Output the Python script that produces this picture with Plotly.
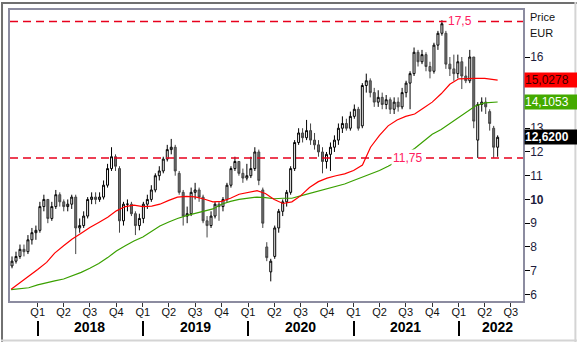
import pandas as pd
import plotly.graph_objects as go

# ---------------- data ----------------
candle_start, candle_end, n_candles = "2017-10-04", "2022-05-16", 123

opens = [7.2, 7.4, 7.6, 7.9, 7.8, 8.3, 8.6, 8.7, 9.7, 10.0,
         9.2, 9.7, 10.2, 9.9, 9.7, 9.8, 10.1, 8.8, 8.9, 9.3,
         10.0, 10.1, 10.0, 10.1, 10.6, 11.3, 11.8, 11.3, 9.1, 9.8,
         9.8, 9.4, 8.9, 9.2, 9.8, 10.0, 10.4, 11.0, 11.2, 11.7,
         12.1, 12.2, 11.1, 10.3, 9.3, 9.4, 10.3, 10.4, 10.1, 9.1,
         8.9, 9.3, 9.8, 9.7, 10.0, 10.6, 11.3, 11.6, 11.1, 10.9,
         11.0, 11.3, 12.0, 10.4, 8.0, 6.95, 7.6, 8.8, 9.5, 9.9,
         10.3, 11.3, 12.4, 12.8, 12.6, 12.9, 12.5, 12.3, 12.0, 11.6,
         11.9, 12.2, 12.5, 13.0, 13.2, 13.0, 13.5, 13.8, 13.1, 14.8,
         15.0, 14.5, 14.1, 14.3, 14.0, 14.2, 13.8, 14.1, 13.9, 14.5,
         14.9, 15.3, 16.2, 15.8, 16.1, 15.6, 15.4, 16.5, 17.0, 17.0,
         15.7, 15.5, 15.3, 15.8, 15.2, 15.0, 16.0, 12.5, 14.0, 14.1,
         13.7, 13.0, 12.2]
highs = [7.6, 7.8, 8.1, 8.1, 8.5, 8.8, 8.9, 9.9, 10.2, 10.0,
         9.9, 10.4, 10.3, 10.0, 10.0, 10.2, 10.2, 9.2, 9.5, 10.1,
         10.3, 10.3, 10.3, 10.8, 11.5, 12.2, 11.9, 11.4, 9.9, 10.0,
         9.9, 9.5, 9.4, 9.9, 10.2, 10.6, 11.1, 11.4, 11.8, 12.3,
         12.55, 12.3, 11.2, 10.4, 9.7, 10.5, 10.7, 10.5, 10.2, 9.3,
         9.5, 9.9, 9.9, 10.1, 10.7, 11.4, 11.8, 11.6, 11.3, 11.5,
         11.8, 12.2, 12.1, 10.5, 8.2, 7.5, 8.9, 9.6, 10.0, 10.4,
         11.4, 12.5, 13.0, 13.0, 13.35, 13.2, 12.8, 12.5, 12.2, 12.0,
         12.4, 12.7, 13.2, 13.5, 13.4, 13.7, 14.0, 13.9, 14.9, 15.3,
         15.1, 14.7, 14.6, 14.5, 14.4, 14.3, 14.3, 14.3, 14.7, 15.0,
         15.4, 16.4, 16.3, 16.3, 16.2, 15.8, 16.6, 17.1, 17.55, 17.1,
         16.0, 16.1, 16.1, 16.0, 15.6, 16.3, 16.0, 14.1, 14.3, 14.3,
         13.8, 13.1, 12.7]
lows = [7.1, 7.3, 7.5, 7.6, 7.7, 8.1, 8.3, 8.6, 9.5, 9.0,
        9.1, 9.6, 9.7, 9.5, 9.5, 9.6, 7.7, 8.6, 8.8, 9.2,
        9.8, 9.8, 9.9, 10.0, 10.5, 11.2, 11.2, 8.6, 8.9, 9.5,
        9.3, 8.5, 8.7, 9.0, 9.6, 9.9, 10.3, 10.8, 11.1, 11.6,
        11.9, 11.0, 10.2, 8.9, 9.0, 9.3, 10.0, 9.9, 9.0, 8.4,
        8.8, 9.2, 9.1, 9.5, 9.9, 10.5, 11.2, 11.0, 10.7, 10.8,
        10.9, 11.2, 10.6, 8.8, 7.4, 6.55, 7.5, 8.6, 9.3, 9.7,
        10.2, 11.2, 12.3, 12.4, 12.5, 12.3, 12.1, 11.8, 11.1, 11.3,
        11.2, 12.0, 12.3, 12.8, 12.9, 12.9, 13.4, 12.9, 13.0, 14.5,
        14.3, 13.9, 13.9, 13.8, 13.8, 13.6, 13.6, 13.7, 13.8, 14.3,
        13.8, 15.2, 15.6, 15.7, 15.4, 15.1, 15.3, 16.3, 16.9, 15.5,
        15.2, 15.0, 15.1, 14.65, 14.9, 14.9, 13.0, 11.75, 13.7, 13.6,
        12.9, 11.75, 11.8]
closes = [7.4, 7.6, 7.9, 7.8, 8.3, 8.6, 8.7, 9.7, 10.0, 9.2,
          9.7, 10.2, 9.9, 9.7, 9.8, 10.1, 8.8, 8.9, 9.3, 10.0,
          10.1, 10.0, 10.1, 10.6, 11.3, 11.8, 11.4, 9.1, 9.8, 9.8,
          9.4, 8.9, 9.2, 9.8, 10.0, 10.4, 11.0, 11.2, 11.7, 12.1,
          12.2, 11.2, 10.3, 9.3, 9.4, 10.3, 10.4, 10.1, 9.1, 8.9,
          9.3, 9.8, 9.7, 10.0, 10.6, 11.3, 11.6, 11.1, 10.9, 11.0,
          11.3, 12.0, 10.8, 9.0, 7.55, 7.4, 8.8, 9.5, 9.9, 10.3,
          11.3, 12.4, 12.8, 12.6, 12.9, 12.5, 12.3, 12.0, 11.6, 11.9,
          12.2, 12.5, 13.0, 13.2, 13.0, 13.5, 13.8, 13.0, 14.8, 15.0,
          14.5, 14.1, 14.3, 14.0, 14.2, 13.8, 14.1, 13.9, 14.5, 14.9,
          15.3, 16.2, 15.8, 16.1, 15.6, 15.4, 16.5, 17.0, 17.4, 15.7,
          15.5, 15.3, 15.8, 15.2, 15.0, 16.0, 13.3, 14.0, 14.1, 13.9,
          13.2, 12.2, 12.62]

ma_start, ma_end_month, ma_last_date = "2017-10-01", "2022-05-01", "2022-05-16"
ma_red = [6.22, 6.5, 6.75,
          7.05, 7.35, 7.74, 8.05, 8.33, 8.58, 8.82, 9.03, 9.25, 9.52, 9.7, 9.76,
          9.7, 9.72, 9.8, 9.96, 10.1, 10.13, 10.11, 10.02, 9.9, 9.92, 10.05, 10.22,
          10.3, 10.37, 10.25, 10.0, 9.83, 9.9, 10.15, 10.5, 10.75, 10.9, 11.0, 11.08,
          11.22, 11.45, 12.2, 12.7, 13.1, 13.35, 13.5, 13.6, 13.85, 14.1, 14.45, 14.85,
          15.08, 15.1, 15.1, 15.1, 15.06,
          15.0278]
ma_green = [6.2, 6.24, 6.28,
            6.4, 6.5, 6.57, 6.65, 6.78, 6.93, 7.1, 7.3, 7.55, 7.83, 8.05, 8.25,
            8.42, 8.65, 8.88, 9.05, 9.2, 9.32, 9.42, 9.52, 9.6, 9.8, 9.92, 10.0,
            10.05, 10.1, 10.08, 10.03, 10.05, 10.05, 10.15, 10.25, 10.35, 10.45, 10.55, 10.65,
            10.8, 10.95, 11.1, 11.22, 11.4, 11.6, 11.9, 12.15, 12.45, 12.75, 12.95, 13.2,
            13.45, 13.72, 13.95, 14.07, 14.1,
            14.1053]

last_price = 12.62
level_high, level_low = 17.5, 11.75
level_high_label, level_low_label = "17,5", "11,75"

quarter_ticks = pd.date_range("2018-01-01", "2022-07-01", freq="QS")
quarter_labels = ["Q%d" % q.quarter for q in quarter_ticks]
year_starts = ["2018-01-01", "2019-01-01", "2020-01-01", "2021-01-01", "2022-01-01"]
year_labels = ["2018", "2019", "2020", "2021", "2022"]
year_label_pos = ["2018-07-01", "2019-07-01", "2020-07-01", "2021-07-01", "2022-05-15"]

y_ticks = [6, 7, 8, 9, 10, 11, 12, 13, 16]
y_ticktext = ["6", "7", "8", "9", "<b>10</b>", "11", "12", "13", "16"]

# ---------------- figure ----------------
dates = pd.date_range(candle_start, candle_end, periods=n_candles)
ma_dates = list(pd.date_range(ma_start, ma_end_month, freq="MS")) + [pd.Timestamp(ma_last_date)]

FONT = "Liberation Sans, Arial, sans-serif"
fig = go.Figure()

fig.add_trace(go.Candlestick(
    x=dates, open=opens, high=highs, low=lows, close=closes,
    increasing=dict(line=dict(color="#000000", width=1), fillcolor="#ffffff"),
    decreasing=dict(line=dict(color="#444444", width=1), fillcolor="#6e6e6e"),
    whiskerwidth=0, hoverinfo="skip", showlegend=False))

fig.add_trace(go.Scatter(x=ma_dates, y=ma_green, mode="lines",
                         line=dict(color="#3aa000", width=1.2), showlegend=False, hoverinfo="skip"))
fig.add_trace(go.Scatter(x=ma_dates, y=ma_red, mode="lines",
                         line=dict(color="#ff0000", width=1.2), showlegend=False, hoverinfo="skip"))
# helper trace so that the year-separator axis is drawn
fig.add_trace(go.Scatter(x=year_starts, y=[None] * len(year_starts), xaxis="x2", yaxis="y",
                         mode="lines", showlegend=False, hoverinfo="skip"))

x_range = ["2017-09-27", "2022-08-12"]
W, H = 577, 343
ml, mr, mt, mb = 9, 54, 8, 8
pw, ph = W - ml - mr, H - mt - mb
plot_bottom = 302
ydom0 = (H - mb - plot_bottom) / ph

fig.update_layout(
    width=W, height=H, margin=dict(l=ml, r=mr, t=mt, b=mb),
    paper_bgcolor="white", plot_bgcolor="white",
    font=dict(family=FONT, size=11, color="#111"),
    hovermode=False, showlegend=False,
    xaxis=dict(type="date", range=x_range, rangeslider=dict(visible=False),
               showgrid=False, zeroline=False, showline=True, mirror=True,
               linecolor="#8c8ca0", linewidth=1.5,
               tickmode="array", tickvals=list(quarter_ticks), ticktext=quarter_labels,
               ticks="outside", ticklen=4, tickcolor="#333", tickwidth=1,
               ticklabelstandoff=-4,
               tickfont=dict(size=11, color="#111")),
    xaxis2=dict(type="date", range=x_range, overlaying="x", anchor="free",
                position=(H - mb - 321) / ph, side="bottom",
                showgrid=False, zeroline=False, showline=False,
                tickmode="array", tickvals=year_starts, ticks="outside",
                ticklen=15, tickwidth=2, tickcolor="#000", showticklabels=False),
    yaxis=dict(domain=[ydom0, 1], range=[5.71, 17.98], side="right",
               showgrid=False, zeroline=False, showline=True, mirror=True,
               linecolor="#8c8ca0", linewidth=1.5,
               tickmode="array", tickvals=y_ticks, ticktext=y_ticktext,
               ticks="outside", ticklen=5, tickcolor="#000",
               ticklabelstandoff=-2,
               tickfont=dict(size=12, color="#1c1c3c")),
)

# dashed levels
for lv in (level_high, level_low):
    fig.add_shape(type="line", xref="paper", yref="y", x0=0, x1=1, y0=lv, y1=lv,
                  line=dict(color="#e8001c", width=1.5, dash="8px,5px"))
fig.add_annotation(x="2022-01-05", y=level_high, xref="x", yref="y", text=level_high_label,
                   showarrow=False, bgcolor="white", borderpad=1,
                   font=dict(size=12, color="#ff2060", family=FONT))
fig.add_annotation(x="2021-07-08", y=level_low, xref="x", yref="y", text=level_low_label,
                   showarrow=False, bgcolor="white", borderpad=1,
                   font=dict(size=12, color="#ff2060", family=FONT))

# right-hand value boxes
def fmt(v):
    return ("%.4f" % v).replace(".", ",")

for val, bg, fc, bold in ((ma_red[-1], "#ff0000", "#3a0000", False),
                          (ma_green[-1], "#44aa00", "#ffffff", False),
                          (last_price, "#000000", "#ffffff", True)):
    txt = fmt(val)
    if bold:
        txt = "<b>" + txt + "</b>"
    fig.add_annotation(x=1, xref="paper", y=val, yref="y", xanchor="left", yanchor="middle",
                       text=txt, showarrow=False, bgcolor=bg, width=52, height=14,
                       align="left", borderpad=0, xshift=1,
                       font=dict(size=12, color=fc, family=FONT))

# Price / EUR header
fig.add_annotation(x=1, xref="paper", y=(H - mb - 15) / ph, yref="paper", xanchor="left",
                   yanchor="middle", xshift=5, text="Price", showarrow=False,
                   font=dict(size=11, color="#111", family=FONT))
fig.add_annotation(x=1, xref="paper", y=(H - mb - 31.5) / ph, yref="paper", xanchor="left",
                   yanchor="middle", xshift=5, text="EUR", showarrow=False,
                   font=dict(size=11, color="#111", family=FONT))

# year labels
for pos, lab in zip(year_label_pos, year_labels):
    fig.add_annotation(x=pos, xref="x", y=(H - mb - 328) / ph, yref="paper",
                       yanchor="middle", text="<b>" + lab + "</b>", showarrow=False,
                       font=dict(size=14, color="#000", family=FONT))

# outer frame of the picture
def px(xp):
    return (xp - ml) / pw

def py(yp):
    return (H - mb - yp) / ph

fig.add_shape(type="line", xref="paper", yref="paper", x0=px(1), x1=px(1), y0=py(0), y1=py(H),
              line=dict(color="#707070", width=2))
fig.add_shape(type="line", xref="paper", yref="paper", x0=px(0), x1=px(W), y0=py(1), y1=py(1),
              line=dict(color="#707070", width=2))
fig.add_shape(type="line", xref="paper", yref="paper", x0=px(W - 1.5), x1=px(W - 1.5), y0=py(0), y1=py(H),
              line=dict(color="#d4d4d4", width=2))
fig.add_shape(type="line", xref="paper", yref="paper", x0=px(0), x1=px(W), y0=py(H - 1.5), y1=py(H - 1.5),
              line=dict(color="#d4d4d4", width=2))

fig.write_html("out.html")
